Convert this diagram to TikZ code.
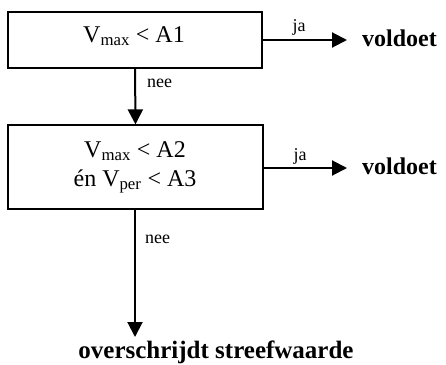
\documentclass[tikz,border=0pt]{standalone}
\usepackage{fontspec}
\setmainfont{Liberation Serif}
\usetikzlibrary{arrows.meta}
\begin{document}
\begin{tikzpicture}[x=1pt,y=1pt,
  box/.style={draw=black,line width=1.2pt,inner sep=0pt},
  main/.style={font=\fontsize{24}{29}\selectfont,inner sep=0pt,anchor=base},
  res/.style={font=\fontsize{24}{29}\selectfont\bfseries,inner sep=0pt,anchor=base west},
  lbl/.style={font=\fontsize{18}{20}\selectfont,inner sep=0pt,anchor=base},
  flow/.style={line width=2pt,-{Triangle[length=15pt,width=15pt]}}]
\useasboundingbox (0,0) rectangle (446,-364);
% boxes
\node[box,minimum width=254pt,minimum height=56pt] (b1) at (135,-40) {};
\node[box,minimum width=255pt,minimum height=84pt] (b2) at (135.5,-167) {};
% texts
\node[main] (t1) at (134,-42) {V\textsubscript{max} < A1};
\node[main] (t2a) at (135,-157) {V\textsubscript{max} < A2};
\node[main] (t2b) at (135,-186) {én V\textsubscript{per} < A3};
% results
\coordinate (e1) at (347,-40);
\coordinate (e2) at (347,-168);
\node[res] (r1) at (362,-46) {voldoet};
\node[res] (r2) at (362,-174) {voldoet};
\node[font=\fontsize{25}{29}\selectfont\bfseries,inner sep=0pt,anchor=base] (r3) at (216,-358) {overschrijdt streefwaarde};
\coordinate (e3) at (135,-337);
% connectors
\draw[flow] (b1.south) -- (b2.north);
\draw[flow] (b1.east |- e1) -- (e1);
\draw[flow] (b2.east |- e2) -- (e2);
\draw[flow] (b2.south -| e3) -- (e3);
% labels
\node[lbl] (ja1) at (299,-31) {ja};
\node[lbl] (ja2) at (300,-160) {ja};
\node[lbl,anchor=base west] (nee1) at (147,-87) {nee};
\node[lbl,anchor=base west] (nee2) at (145,-243) {nee};
\end{tikzpicture}
\end{document}
